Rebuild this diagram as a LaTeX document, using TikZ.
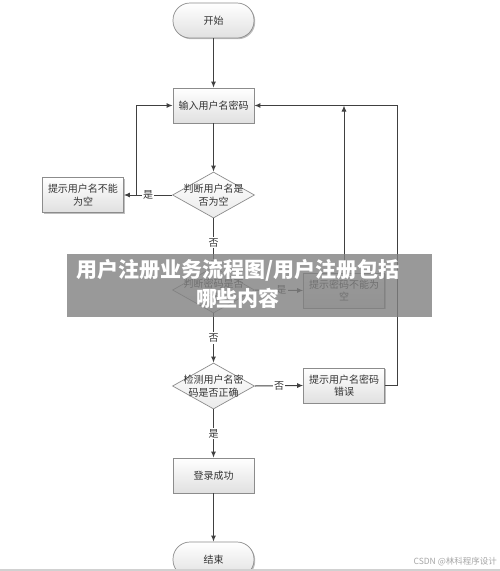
\documentclass[tikz,border=0pt]{standalone}
\usepackage{fontspec}
\newfontfamily\cjk{Noto Sans CJK SC}
\usetikzlibrary{arrows.meta,shapes.geometric,shadows}
\definecolor{linec}{HTML}{404040}
\definecolor{edgec}{HTML}{8C8C8C}
\begin{document}
\begin{tikzpicture}[x=1pt,y=-1pt,
  font=\cjk\fontsize{10}{12.5}\selectfont,
  boxbase/.style={draw=edgec, line width=0.7pt, top color=white, bottom color=black!12,
    drop shadow={shadow xshift=1.2pt, shadow yshift=-1.2pt, opacity=0.25, fill=black},
    minimum width=81pt, minimum height=35pt, inner sep=1pt, align=center, text=black!80},
  procbox/.style={boxbase},
  termbox/.style={boxbase, rounded corners=17pt},
  dia/.style={diamond, draw=edgec, line width=0.7pt, top color=white, bottom color=black!8,
    minimum width=82pt, minimum height=46pt, inner sep=0pt, aspect=1.78},
  dtext/.style={align=center, inner sep=0pt, text=black!80, font=\cjk\fontsize{10}{13}\selectfont},
  conn/.style={draw=linec, line width=1pt, -{Latex[length=6pt,width=5pt]}},
  lab/.style={fill=white, inner sep=1.2pt, text=black!80}]
\useasboundingbox (0,0) rectangle (500,571);
\begin{scope}
\clip (0,0) rectangle (500,571);
\fill[white] (0,0) rectangle (500,571);

% nodes
\node[termbox] (start) at (213.5,20.5) {开始};
\node[procbox] (input) at (213.5,105.5) {输入用户名密码};
\node[procbox] (err1) at (83,195) {提示用户名不能\\为空};
\node[dia] (d1) at (213.5,195) {};
\node[dtext] at (d1) {判断用户名是\\否为空};
\node[dia] (d2) at (213.5,290) {};
\node[dtext] at (d2) {判断密码是否\\为空};
\node[procbox] (err2) at (344,290.5) {提示密码不能为\\空};
\node[dia] (d3) at (213.5,386) {};
\node[dtext] at (d3) {检测用户名密\\码是否正确};
\node[procbox] (err3) at (344,385.5) {提示用户名密码\\错误};
\node[procbox] (ok) at (213.5,475.5) {登录成功};
\node[termbox] (end) at (213.5,559.5) {结束};

\coordinate (jl) at (136,195);
\coordinate (ju) at (344,105.5);
\coordinate (jr) at (397,385.5);

% connectors
\draw[conn] (start) -- (input);
\draw[conn] (input) -- (d1);
\draw[conn] (d1.west) -- node[lab, pos=0.5] {是} (err1.east);
\draw[conn] (jl) |- (input.west);
\draw[conn] (d1.south) -- node[lab, pos=0.5] {否} (d2.north);
\draw[conn] (d2.east) -- node[lab, pos=0.55] {是} (err2.west);
\draw[conn] (err2.north) -- (ju);
\draw[conn] (d2.south) -- node[lab, pos=0.5] {否} (d3.north);
\draw[conn] (d3.east) -- node[lab, pos=0.5] {否} (err3.west);
\draw[conn] (err3.east) -- (jr) |- (input.east);
\draw[conn] (d3.south) -- node[lab, pos=0.5] {是} (ok.north);
\draw[conn] (ok) -- (end);

% overlay banner
\fill[gray, opacity=0.8] (67,254) rectangle (432,317);
\node[text=white, font=\cjk\bfseries\fontsize{21}{29}\selectfont, align=center, inner sep=0pt] (banner) at (238,283.5) {用户注册业务流程图/用户注册包括\\哪些内容};

% bottom strip and watermark
\fill[black!18] (0,568.5) rectangle (500,571);
\node[anchor=east, text=black!35, font=\cjk\fontsize{8.5}{10}\selectfont, inner sep=0pt] (wm) at (497,562) {CSDN @林科程序设计};
\end{scope}
\end{tikzpicture}
\end{document}
